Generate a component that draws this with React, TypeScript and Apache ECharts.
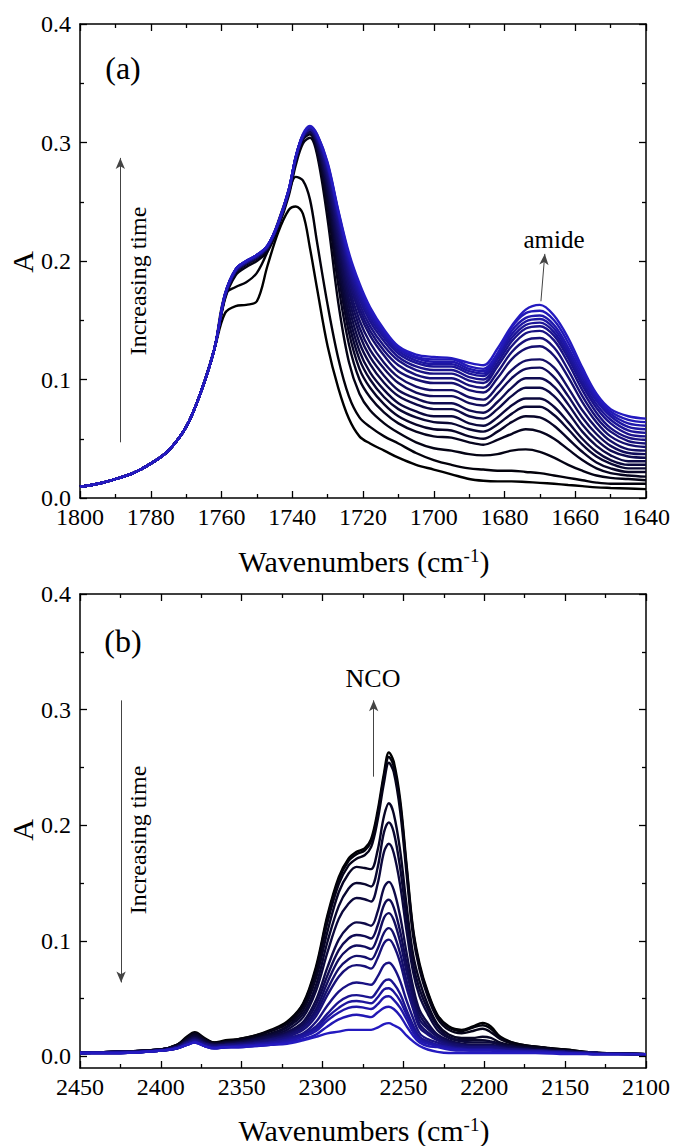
import React, { useEffect, useRef } from 'react';
import * as echarts from 'echarts';

const FONT = "Liberation Serif";

// ---------- Panel (a): 1800-1640 cm-1 ----------
const wavenumbersA = [1800,1795,1790,1785,1780,1775,1770,1766,1762,1759,1756,1753,1750,1747,1744,1741,1739,1737,1735,1733,1730,1727,1724,1721,1718,1714,1710,1705,1700,1695,1690,1686,1682,1678,1674,1670,1666,1662,1658,1654,1650,1645,1640];
// common low-wavenumber wing (1800-1762), identical for all spectra
const wingA = [0.0095,0.012,0.016,0.021,0.029,0.040,0.060,0.088,0.126];
// per-spectrum values 1759 -> 1640 (earliest first)
const a00 = [.156,.162,.163,.166,.196,.224,.243,.246,.240,.211,.177,.128,.093,.067,.052,.046,.040,.034,.028,.024,.020,.016,.0145,.014,.014,.0135,.0128,.012,.011,.010,.009,.0085,.008,.0075];
const a01 = [.172,.178,.182,.190,.208,.233,.258,.271,.268,.252,.216,.163,.118,.086,.068,.060,.052,.046,.038,.032,.028,.025,.024,.023,.023,.022,.021,.019,.017,.015,.013,.012,.012,.012];
const a02 = [.168,.188,.195,.200,.208,.228,.255,.281,.299,.304,.290,.235,.165,.115,.088,.074,.063,.055,.047,.042,.040,.037,.036,.037,.040,.041,.039,.034,.028,.023,.019,.017,.016,.015];
const a03 = [.169,.190,.197,.202,.210,.230,.257,.284,.302,.307,.293,.245,.180,.130,.100,.085,.072,.063,.056,.052,.051,.047,.045,.049,.054,.058,.056,.050,.041,.032,.025,.021,.019,.018];
const a04 = [.170,.191,.198,.203,.211,.231,.258,.286,.304,.309,.295,.250,.190,.140,.109,.093,.079,.069,.062,.058,.057,.052,.050,.056,.064,.069,.068,.061,.050,.039,.030,.025,.022,.022];
const a05 = [.170,.191,.198,.203,.211,.231,.258,.286,.304,.309,.297,.255,.197,.148,.117,.100,.085,.075,.068,.064,.063,.058,.056,.062,.071,.077,.077,.070,.058,.045,.035,.029,.025,.025];
const a06 = [.170,.191,.198,.203,.211,.231,.258,.286,.304,.309,.298,.259,.203,.155,.124,.106,.091,.080,.073,.069,.069,.063,.061,.068,.078,.084,.084,.077,.064,.050,.039,.032,.028,.028];
const a07 = [.170,.191,.198,.203,.211,.231,.258,.286,.304,.309,.299,.262,.209,.162,.131,.113,.097,.086,.079,.075,.075,.069,.067,.075,.086,.093,.093,.086,.072,.056,.044,.036,.031,.031];
const a08 = [.170,.191,.198,.203,.211,.231,.258,.286,.304,.309,.300,.265,.214,.168,.138,.119,.103,.091,.084,.080,.080,.074,.072,.081,.093,.101,.101,.094,.079,.062,.049,.040,.035,.034];
const a09 = [.171,.192,.199,.204,.212,.231,.259,.287,.305,.311,.301,.268,.219,.174,.144,.125,.109,.097,.089,.086,.086,.080,.078,.088,.101,.109,.110,.102,.086,.068,.054,.044,.038,.037];
const a10 = [.171,.192,.199,.204,.212,.231,.259,.287,.305,.311,.302,.270,.223,.179,.150,.131,.114,.102,.094,.091,.091,.085,.083,.094,.108,.116,.117,.110,.093,.074,.059,.048,.041,.040];
const a11 = [.171,.192,.199,.204,.212,.231,.259,.287,.305,.311,.303,.272,.227,.184,.156,.137,.120,.107,.100,.097,.097,.091,.089,.101,.117,.126,.128,.120,.102,.081,.064,.052,.045,.043];
const a12 = [.171,.192,.199,.204,.212,.231,.259,.287,.305,.311,.303,.274,.230,.188,.160,.141,.124,.112,.104,.101,.101,.095,.093,.106,.123,.133,.135,.127,.108,.086,.068,.056,.048,.046];
const a13 = [.171,.192,.199,.204,.212,.231,.259,.287,.305,.311,.304,.276,.233,.192,.164,.145,.128,.116,.108,.105,.105,.099,.097,.111,.128,.139,.141,.133,.114,.091,.072,.059,.051,.049];
const a14 = [.171,.192,.199,.204,.212,.231,.259,.287,.305,.311,.305,.278,.236,.195,.168,.149,.132,.119,.111,.108,.108,.102,.100,.114,.132,.143,.145,.137,.118,.095,.076,.063,.054,.052];
const a15 = [.172,.193,.200,.205,.213,.232,.260,.288,.306,.313,.305,.279,.238,.198,.171,.152,.135,.122,.114,.111,.111,.105,.103,.117,.135,.146,.148,.140,.121,.098,.079,.066,.057,.055];
const a16 = [.172,.193,.200,.205,.213,.232,.260,.288,.306,.313,.306,.280,.240,.201,.174,.155,.137,.124,.116,.113,.113,.107,.105,.119,.138,.149,.151,.143,.124,.101,.082,.069,.060,.058];
const a17 = [.172,.193,.200,.205,.213,.232,.260,.288,.306,.313,.306,.281,.241,.203,.177,.157,.139,.126,.118,.115,.115,.109,.107,.121,.141,.152,.154,.146,.127,.104,.084,.071,.063,.061];
const a18 = [.172,.193,.200,.205,.213,.232,.260,.288,.306,.313,.307,.282,.242,.205,.179,.159,.141,.127,.119,.117,.117,.111,.109,.122,.144,.156,.158,.150,.131,.107,.086,.073,.066,.064];
const a19 = [.172,.193,.200,.205,.213,.232,.260,.288,.307,.314,.307,.283,.243,.207,.181,.161,.142,.128,.121,.119,.118,.114,.112,.126,.145,.159,.163,.154,.135,.110,.088,.075,.069,.067];
const spectraA = [a00,a01,a02,a03,a04,a05,a06,a07,a08,a09,a10,a11,a12,a13,a14,a15,a16,a17,a18,a19];

// ---------- Panel (b): 2450-2100 cm-1 ----------
const wavenumbersB = [2450,2425,2400,2390,2384,2379,2373,2367,2360,2352,2342,2332,2322,2312,2304,2297,2290,2284,2279,2274,2270,2266,2262,2259,2256,2252,2248,2244,2240,2235,2229,2222,2214,2207,2201,2196,2190,2180,2165,2150,2130,2100];
const b00 = [.003,.004,.006,.010,.017,.021,.016,.012,.014,.015,.018,.023,.030,.046,.078,.122,.155,.171,.177,.180,.188,.212,.245,.263,.255,.222,.165,.110,.080,.056,.036,.026,.023,.026,.029,.026,.017,.011,.008,.006,.003,.002];
const b01 = [.003,.004,.006,.010,.016,.020,.015,.012,.013,.015,.018,.022,.029,.045,.076,.120,.153,.169,.175,.178,.186,.209,.242,.259,.251,.218,.162,.108,.078,.055,.035,.025,.022,.025,.027,.024,.016,.011,.008,.006,.003,.002];
const b02 = [.003,.004,.006,.010,.016,.020,.015,.011,.013,.014,.017,.022,.028,.043,.073,.116,.149,.165,.171,.174,.181,.204,.237,.254,.246,.212,.157,.104,.075,.052,.033,.023,.020,.022,.024,.021,.015,.010,.008,.005,.003,.002];
const b03 = [.003,.004,.006,.009,.015,.019,.014,.011,.012,.013,.016,.020,.026,.040,.068,.108,.142,.158,.164,.163,.162,.178,.208,.219,.210,.178,.130,.088,.065,.045,.028,.019,.016,.016,.017,.016,.012,.009,.007,.005,.003,.002];
const b04 = [.003,.004,.006,.009,.014,.018,.014,.011,.012,.013,.015,.019,.025,.037,.062,.099,.130,.145,.150,.149,.147,.163,.194,.2025,.194,.163,.119,.080,.058,.041,.026,.017,.014,.014,.014,.013,.011,.008,.006,.005,.003,.002];
const b05 = [.003,.004,.006,.009,.014,.017,.013,.010,.011,.012,.015,.018,.023,.034,.057,.090,.119,.132,.137,.136,.134,.149,.177,.184,.176,.148,.108,.073,.052,.037,.023,.016,.013,.012,.012,.012,.010,.008,.006,.004,.003,.002];
const b06 = [.003,.004,.005,.008,.013,.016,.012,.010,.011,.012,.014,.017,.021,.030,.049,.077,.101,.112,.116,.115,.113,.125,.146,.151,.144,.121,.089,.060,.040,.029,.019,.014,.011,.010,.010,.010,.009,.007,.005,.004,.003,.002];
const b07 = [.003,.004,.005,.008,.013,.016,.012,.010,.010,.011,.013,.016,.020,.028,.045,.070,.092,.102,.105,.104,.102,.113,.131,.1355,.129,.108,.080,.054,.036,.026,.018,.013,.010,.009,.009,.009,.008,.007,.005,.004,.003,.002];
const b08 = [.003,.004,.005,.008,.012,.015,.011,.009,.010,.011,.013,.015,.019,.026,.041,.064,.084,.093,.096,.095,.093,.103,.120,.124,.118,.099,.073,.050,.032,.024,.017,.012,.010,.009,.009,.009,.008,.006,.005,.004,.003,.002];
const b09 = [.003,.004,.005,.008,.012,.015,.011,.009,.010,.011,.012,.015,.018,.025,.038,.058,.076,.084,.087,.086,.084,.093,.107,.111,.106,.089,.065,.045,.028,.021,.015,.011,.009,.008,.008,.008,.007,.006,.005,.004,.003,.002];
const b10 = [.003,.003,.005,.008,.012,.014,.011,.009,.010,.010,.012,.014,.017,.023,.035,.053,.069,.077,.079,.078,.076,.085,.098,.101,.096,.081,.059,.041,.025,.019,.014,.010,.008,.008,.008,.008,.007,.006,.005,.004,.003,.002];
const b11 = [.003,.003,.005,.007,.011,.014,.010,.008,.009,.010,.011,.013,.016,.020,.030,.044,.056,.062,.064,.063,.062,.069,.079,.081,.077,.065,.048,.033,.020,.015,.012,.009,.007,.007,.007,.007,.006,.005,.004,.003,.002,.002];
const b12 = [.003,.003,.005,.007,.011,.013,.010,.008,.009,.009,.011,.012,.015,.019,.026,.037,.047,.052,.053,.052,.051,.057,.065,.0665,.063,.054,.040,.027,.017,.013,.010,.008,.007,.006,.006,.006,.005,.005,.004,.003,.002,.002];
const b13 = [.003,.003,.005,.007,.010,.013,.009,.008,.008,.009,.010,.012,.014,.018,.024,.034,.042,.047,.048,.047,.046,.051,.058,.059,.056,.048,.036,.024,.015,.012,.010,.008,.006,.006,.006,.006,.005,.004,.004,.003,.002,.002];
const b14 = [.003,.003,.005,.007,.010,.012,.009,.007,.008,.009,.010,.011,.013,.017,.022,.031,.038,.042,.043,.042,.041,.045,.051,.052,.049,.042,.032,.021,.014,.011,.009,.007,.006,.005,.005,.005,.005,.004,.004,.003,.002,.002];
const b15 = [.003,.003,.005,.007,.010,.012,.009,.007,.008,.008,.009,.010,.012,.015,.019,.026,.032,.035,.036,.035,.034,.038,.042,.043,.041,.035,.026,.018,.012,.009,.008,.006,.005,.005,.005,.005,.004,.004,.003,.003,.002,.002];
const b16 = [.003,.003,.005,.007,.010,.012,.009,.007,.008,.008,.009,.010,.011,.014,.017,.020,.0215,.023,.023,.023,.023,.025,.028,.0288,.027,.024,.018,.013,.009,.006,.004,.003,.003,.003,.003,.003,.003,.003,.003,.002,.002,.002];
const spectraB = [b00,b01,b02,b03,b04,b05,b06,b07,b08,b09,b10,b11,b12,b13,b14,b15,b16];

// ---------- tick labels ----------
const xTicksA = [1800, 1780, 1760, 1740, 1720, 1700, 1680, 1660, 1640];
const xTicksB = [2450, 2400, 2350, 2300, 2250, 2200, 2150, 2100];
const yMajorTicks = [0, 0.1, 0.2, 0.3, 0.4];
const yMinorTicks = [0.05, 0.15, 0.25, 0.35];

// ---------- annotation arrows (data coordinates) ----------
const arrowTimeA = [[1788.6, 0.047], [1788.6, 0.287]];
const arrowAmide = [[1669.7, 0.166], [1668.6, 0.206]];
const arrowTimeB = [[2424.6, 0.308], [2424.6, 0.064]];
const arrowNCO = [[2268.4, 0.242], [2268.4, 0.308]];

const BLUE = [36, 26, 192];
function shade(t: number) {
  return `rgb(${Math.round(BLUE[0] * t)},${Math.round(BLUE[1] * t)},${Math.round(BLUE[2] * t)})`;
}

const AXIS_LINE = { show: true, onZero: false, lineStyle: { color: '#000', width: 1.5 } };
const TICK_STYLE = { color: '#000', width: 1.3 };

function xAxisPair(gridIndex: number, min: number, max: number, interval: number) {
  const base = {
    type: 'value', gridIndex, min, max, interval, inverse: true,
    axisLine: AXIS_LINE,
    axisTick: { show: true, inside: true, length: 7, lineStyle: TICK_STYLE },
    minorTick: { show: true, splitNumber: 2, length: 4, lineStyle: TICK_STYLE },
    splitLine: { show: false }, minorSplitLine: { show: false },
    axisLabel: { show: false },
  };
  return [{ ...base, position: 'bottom' }, { ...base, position: 'top' }];
}

function arrowSeries(xi: number, yi: number, pts: number[][]) {
  return {
    type: 'line', xAxisIndex: xi, yAxisIndex: yi, data: [], silent: true,
    markLine: {
      silent: true, animation: false,
      symbol: ['none', 'arrow'], symbolSize: [7, 11],
      label: { show: false }, emphasis: { disabled: true },
      lineStyle: { color: '#444', width: 1, type: 'solid' },
      data: [[{ coord: pts[0] }, { coord: pts[1] }]],
    },
  };
}

function txt(x: number, y: number, text: string, size: number, align = 'center', rotation = 0) {
  return { type: 'text', x, y, rotation, silent: true,
    style: { text, font: `${size}px ${FONT}`, fill: '#000', align, verticalAlign: 'middle' } };
}

export default function App() {
  const ref = useRef<HTMLDivElement>(null);
  useEffect(() => {
    if (!ref.current) return;
    const chart = echarts.init(ref.current, null, { renderer: 'svg' });

    const seriesA = spectraA.map((tail, i) => {
      const full = [...wingA, ...tail];
      return {
        type: 'line', xAxisIndex: 0, yAxisIndex: 0, silent: true,
        showSymbol: false, symbol: 'none', smooth: 0.35,
        lineStyle: { width: 2.4, color: shade(i / (spectraA.length - 1)) },
        data: wavenumbersA.map((w, j) => [w, full[j]]),
      };
    });
    const seriesB = spectraB.map((vals, i) => ({
      type: 'line', xAxisIndex: 2, yAxisIndex: 2, silent: true,
      showSymbol: false, symbol: 'none', smooth: 0.35,
      lineStyle: { width: 2.4, color: shade(i / (spectraB.length - 1)) },
      data: wavenumbersB.map((w, j) => [w, vals[j]]),
    }));

    const yBase = {
      type: 'value', axisLine: AXIS_LINE, splitLine: { show: false }, minorSplitLine: { show: false },
      axisLabel: { show: false },
    };

    const titleRich = {
      n: { fontFamily: FONT, fontSize: 30, lineHeight: 30, fill: '#000' },
      s: { fontFamily: FONT, fontSize: 19, lineHeight: 30, fill: '#000', verticalAlign: 'top' },
    };

    const staticGraphics = [
      txt(123, 68, '(a)', 32),
      txt(123, 641, '(b)', 32),
      txt(22, 262, 'A', 30, 'center', Math.PI / 2),
      txt(22, 830, 'A', 30, 'center', Math.PI / 2),
      txt(138, 281, 'Increasing time', 24, 'center', Math.PI / 2),
      txt(138, 840, 'Increasing time', 24, 'center', Math.PI / 2),
      txt(554, 239, 'amide', 25),
      txt(373, 678, 'NCO', 26),
      { type: 'text', x: 364, y: 561, silent: true, style: { text: '{n|Wavenumbers (cm}{s|-1}{n|)}', rich: titleRich, align: 'center', verticalAlign: 'middle' } },
      { type: 'text', x: 364, y: 1130, silent: true, style: { text: '{n|Wavenumbers (cm}{s|-1}{n|)}', rich: titleRich, align: 'center', verticalAlign: 'middle' } },
    ];

    const option: any = {
      animation: false,
      backgroundColor: '#fff',
      grid: [
        { left: 80, top: 24, width: 566, height: 474 },
        { left: 80, top: 594, width: 566, height: 474 },
      ],
      xAxis: [...xAxisPair(0, 1640, 1800, 20), ...xAxisPair(1, 2100, 2450, 50)],
      yAxis: [
        { ...yBase, gridIndex: 0, position: 'left', min: 0, max: 0.4, interval: 0.1,
          axisTick: { show: true, inside: true, length: 7, lineStyle: TICK_STYLE },
          minorTick: { show: true, splitNumber: 2, length: 4, lineStyle: TICK_STYLE } },
        { ...yBase, gridIndex: 0, position: 'right', min: 0, max: 0.4, interval: 0.1,
          axisTick: { show: true, inside: true, length: 7, lineStyle: TICK_STYLE },
          minorTick: { show: true, splitNumber: 2, length: 4, lineStyle: TICK_STYLE } },
        { ...yBase, gridIndex: 1, position: 'left', min: -0.01, max: 0.4,
          axisTick: { show: true, inside: true, length: 7, lineStyle: TICK_STYLE, customValues: yMajorTicks } },
        { ...yBase, gridIndex: 1, position: 'right', min: -0.01, max: 0.4,
          axisTick: { show: true, inside: true, length: 7, lineStyle: TICK_STYLE, customValues: yMajorTicks } },
        { ...yBase, gridIndex: 1, position: 'left', min: -0.01, max: 0.4, axisLine: { show: false },
          axisTick: { show: true, inside: true, length: 4, lineStyle: TICK_STYLE, customValues: yMinorTicks } },
        { ...yBase, gridIndex: 1, position: 'right', min: -0.01, max: 0.4, axisLine: { show: false },
          axisTick: { show: true, inside: true, length: 4, lineStyle: TICK_STYLE, customValues: yMinorTicks } },
      ],
      series: [
        ...seriesA,
        ...seriesB,
        arrowSeries(0, 0, arrowTimeA),
        arrowSeries(0, 0, arrowAmide),
        arrowSeries(2, 2, arrowTimeB),
        arrowSeries(2, 2, arrowNCO),
      ],
      graphic: staticGraphics,
    };
    chart.setOption(option);

    // tick labels placed through the axes' own scales
    const labels: any[] = [];
    const xLabelRow = (xAxisIndex: number, yAxisIndex: number, ticks: number[], yMinVal: number) => {
      const base = chart.convertToPixel({ yAxisIndex } as any, yMinVal) as number;
      ticks.forEach((t) => {
        const px = chart.convertToPixel({ xAxisIndex } as any, t) as number;
        labels.push(txt(px, base + 19, String(t), 24));
      });
    };
    const yLabelCol = (yAxisIndex: number, xAxisIndex: number, xLeftVal: number) => {
      const left = chart.convertToPixel({ xAxisIndex } as any, xLeftVal) as number;
      yMajorTicks.forEach((t) => {
        const py = chart.convertToPixel({ yAxisIndex } as any, t) as number;
        labels.push(txt(left - 9, py, t.toFixed(1), 24, 'right'));
      });
    };
    xLabelRow(0, 0, xTicksA, 0);
    xLabelRow(2, 2, xTicksB, -0.01);
    yLabelCol(0, 0, 1800);
    yLabelCol(2, 2, 2450);
    chart.setOption({ graphic: [...staticGraphics, ...labels] });

    return () => chart.dispose();
  }, []);
  return <div ref={ref} style={{ position: 'absolute', left: 0, top: 0, width: 673, height: 1146, background: '#fff' }} />;
}
